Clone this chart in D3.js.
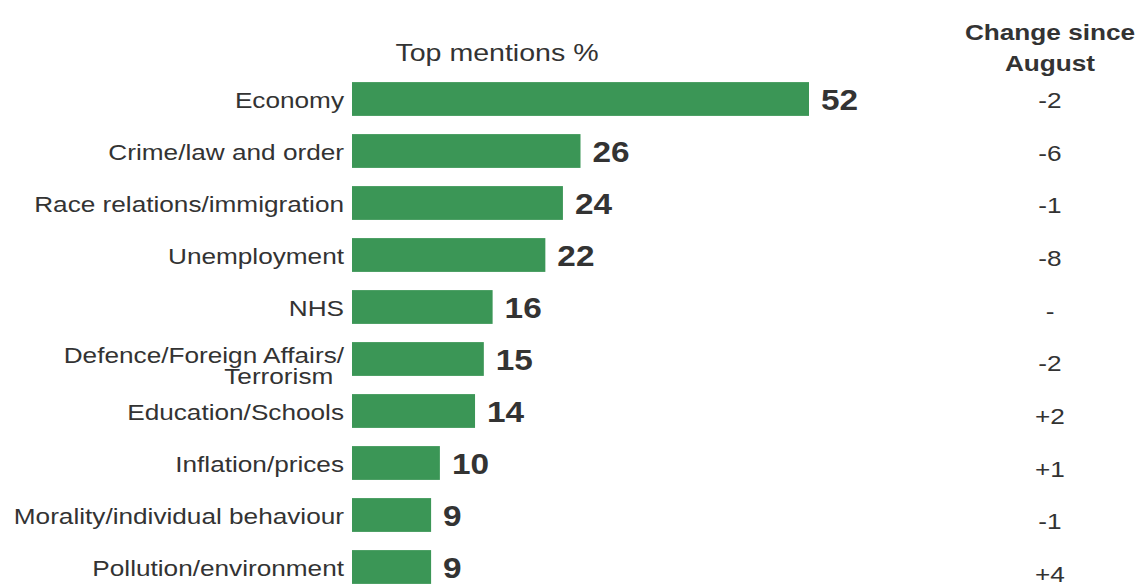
<!DOCTYPE html>
<html>
<head>
<meta charset="utf-8">
<script src="https://cdn.jsdelivr.net/npm/d3@7"></script>
<style>
  body { margin: 0; background: #fff; }
  text { font-family: "Liberation Sans", Arial, sans-serif; }
</style>
</head>
<body>
<div id="chart"></div>
<script>
// data
var categories = ["Economy", "Crime/law and order", "Race relations/immigration", "Unemployment", "NHS",
  "Defence/Foreign Affairs/|Terrorism", "Education/Schools", "Inflation/prices",
  "Morality/individual behaviour", "Pollution/environment"];
var mentions = [52, 26, 24, 22, 16, 15, 14, 10, 9, 9];
var changes = ["-2", "-6", "-1", "-8", "-", "-2", "+2", "+1", "-1", "+4"];

var width = 1137, height = 584;
var sx = 1.19; // the original text is a bit wide

var svg = d3.select("#chart")
  .append("svg")
    .attr("width", width)
    .attr("height", height);

function place(x, y) {
  return "translate(" + x + "," + y + ") scale(" + sx + ",1)";
}

// scales
var x = d3.scaleLinear()
  .domain([0, 52])
  .range([352, 809]);

var y = d3.scaleBand()
  .domain(categories)
  .range([73, 593])
  .paddingInner(0.35)
  .paddingOuter(0.175);

// change column rows drift slightly lower than the bars
var yc = d3.scaleLinear()
  .domain([0, categories.length - 1])
  .range([108, 582]);

// headers
svg.append("text")
  .attr("transform", place(497, 61))
  .attr("text-anchor", "middle")
  .attr("font-size", 24)
  .attr("fill", "#333")
  .text("Top mentions %");

var hdr = svg.append("text")
  .attr("transform", place(1050, 40))
  .attr("text-anchor", "middle")
  .attr("font-size", 22)
  .attr("font-weight", "bold")
  .attr("fill", "#333");
hdr.append("tspan").attr("x", 0).text("Change since");
hdr.append("tspan").attr("x", 0).attr("dy", 31).text("August");

// bars
svg.append("g")
  .selectAll("rect")
  .data(mentions)
  .enter().append("rect")
    .attr("x", x(0))
    .attr("y", function(d, i) { return y(categories[i]); })
    .attr("width", function(d) { return x(d) - x(0); })
    .attr("height", y.bandwidth())
    .attr("fill", "#3b9656");

// category labels
var labels = svg.append("g")
  .attr("font-size", 22)
  .attr("fill", "#333")
  .attr("text-anchor", "end")
  .selectAll("text")
  .data(categories)
  .enter().append("text")
    .attr("transform", function(d) {
      var c = y(d) + y.bandwidth() / 2;
      return place(344, d.indexOf("|") >= 0 ? c + 4 : c + 9);
    });
labels.each(function(d) {
  var parts = d.split("|");
  var t = d3.select(this);
  parts.forEach(function(p, j) {
    t.append("tspan").attr("x", j ? -9 : 0).attr("dy", j ? 21 : 0).text(p);
  });
});

// value labels
svg.append("g")
  .attr("font-size", 29)
  .attr("font-weight", "bold")
  .attr("fill", "#333")
  .selectAll("text")
  .data(mentions)
  .enter().append("text")
    .attr("transform", function(d, i) {
      return "translate(" + (x(d) + 12) + "," + (y(categories[i]) + y.bandwidth() / 2 + 11) + ") scale(1.15,1)";
    })
    .text(function(d) { return d; });

// change values
svg.append("g")
  .attr("font-size", 22)
  .attr("fill", "#333")
  .attr("text-anchor", "middle")
  .selectAll("text")
  .data(changes)
  .enter().append("text")
    .attr("transform", function(d, i) { return place(1050, yc(i)); })
    .text(function(d) { return d; });
</script>
</body>
</html>
